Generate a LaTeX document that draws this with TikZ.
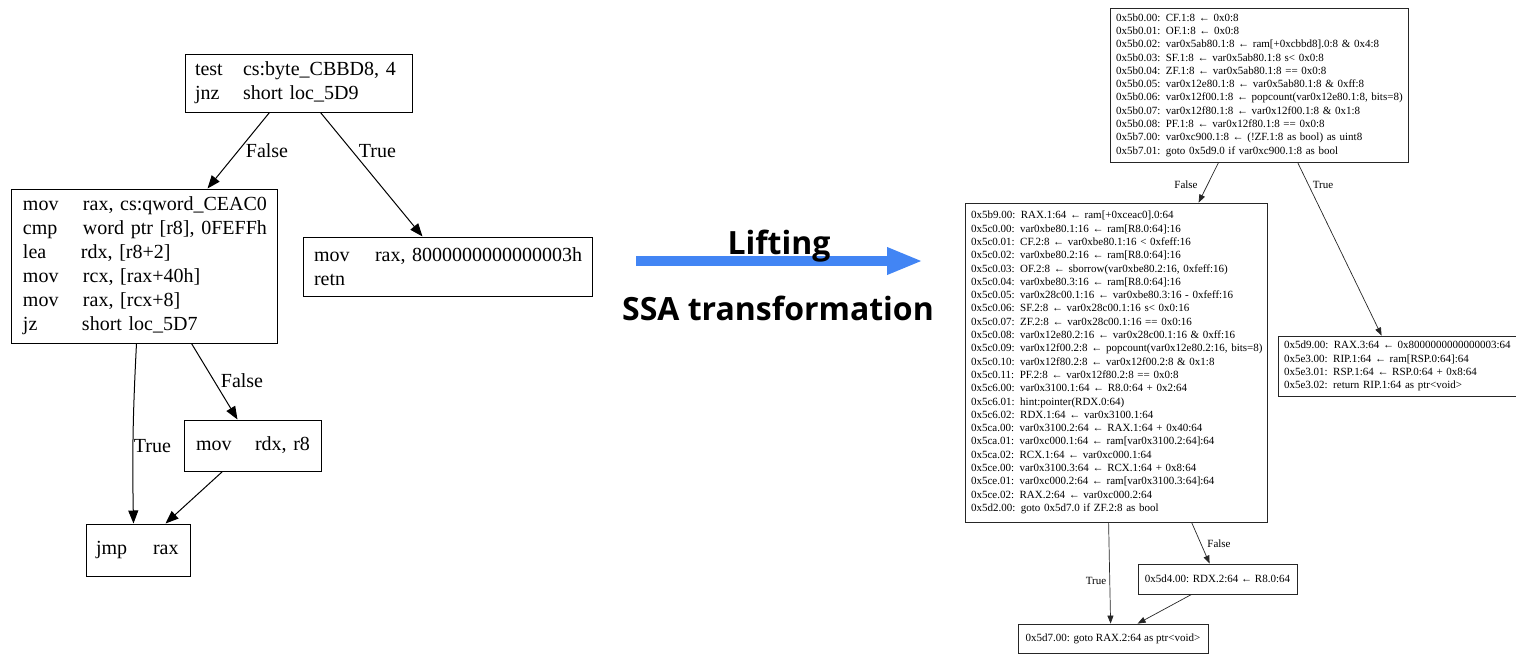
\documentclass[tikz,border=0pt]{standalone}
\usepackage{fontspec}
\setmainfont{Liberation Serif}
\newfontfamily\liftfont{Open Sans}
\usetikzlibrary{arrows.meta,calc}
\definecolor{liftblue}{RGB}{66,133,244}
\newcommand{\ins}[3]{\mbox{\makebox[#1][l]{#2}#3}}
\newcommand{\rl}[1]{\mbox{#1}}
\begin{document}
\begin{tikzpicture}[x=1pt,y=-1pt,
  lbox/.style={draw=black, line width=1pt, rectangle, inner ysep=0pt, align=left, font=\fontsize{20}{24}\selectfont},
  rbox/.style={draw=black!85, line width=0.8pt, rectangle, inner ysep=0pt, inner xsep=6pt, align=left, font=\fontsize{11}{13.3}\selectfont},
  larr/.style={draw=black, line width=1pt, -{Triangle[length=13pt,width=10pt]}},
  rarr/.style={draw=black!85, line width=0.7pt, -{Triangle[length=8pt,width=6pt]}},
  llbl/.style={font=\fontsize{20}{24}\selectfont, inner sep=0pt, anchor=base},
  rlbl/.style={font=\fontsize{11}{13}\selectfont, inner sep=0pt, anchor=base},
  bigtxt/.style={font=\liftfont\bfseries\fontsize{32}{36}\selectfont, inner sep=0pt, anchor=base}
]
\useasboundingbox (0,0) rectangle (1516,654);

% ---------------- left graph ----------------
\node[lbox, minimum height=58pt, text width=207pt, inner xsep=10pt] (A) at (298.5,83)
  {\ins{48pt}{test}{cs:byte\_CBBD8, 4}\\\ins{48pt}{jnz}{short loc\_5D9}};
\node[lbox, minimum height=154pt, text width=242pt, inner xsep=12pt] (B) at (144,266)
  {\ins{60pt}{mov}{rax, cs:qword\_CEAC0}\\
   \ins{60pt}{cmp}{word ptr [r8], 0FEFFh}\\
   \ins{58pt}{lea}{rdx, [r8+2]}\\
   \ins{60pt}{mov}{rcx, [rax+40h]}\\
   \ins{60pt}{mov}{rax, [rcx+8]}\\
   \ins{59pt}{jz}{short loc\_5D7}};
\node[lbox, minimum height=59pt, text width=267pt, inner xsep=11pt] (C) at (447.5,266.5)
  {\ins{61pt}{mov}{rax, 8000000000000003h}\\\ins{61pt}{retn}{}};
\node[lbox, minimum height=51pt, text width=113pt, inner xsep=12pt] (D) at (252.5,445.5)
  {\ins{59pt}{mov}{rdx, r8}};
\node[lbox, minimum height=52pt, text width=84pt, inner xsep=10pt] (E) at (138,550)
  {\ins{57pt}{jmp}{rax}};

\draw[larr] ([xshift=85pt]A.south west) -- ([xshift=197pt]B.north west);
\draw[larr] ([xshift=136pt]A.south west) -- ([xshift=120pt]C.north west);
\draw[larr] ([xshift=126pt]B.south west) to[bend right=2] ([xshift=48pt]E.north west);
\draw[larr] ([xshift=181pt]B.south west) -- ([xshift=54pt]D.north west);
\draw[larr] ([xshift=39pt]D.south west) -- ([xshift=80pt]E.north west);

\node[llbl] (lf1) at (267,157) {False};
\node[llbl] (lt1) at (377.5,157) {True};
\node[llbl] (lt2) at (152.5,452) {True};
\node[llbl] (lf2) at (242,387) {False};

% ---------------- middle ----------------
\coordinate (ls) at (636,261);
\coordinate (le) at (923,261);
\draw[line width=10pt, liftblue, -{Triangle[length=36pt,width=25pt]}] (ls) -- (le);
\node[bigtxt] (lift) at (779,254) {Lifting};
\node[bigtxt] (ssa) at (778,320) {SSA transformation};

% ---------------- right graph ----------------
\node[rbox, minimum height=154pt, text width=286pt] (R1) at (1259,85)
  {\rl{0x5b0.00: CF.1:8 ← 0x0:8}\\
   \rl{0x5b0.01: OF.1:8 ← 0x0:8}\\
   \rl{0x5b0.02: var0x5ab80.1:8 ← ram[+0xcbbd8].0:8 \& 0x4:8}\\
   \rl{0x5b0.03: SF.1:8 ← var0x5ab80.1:8 s< 0x0:8}\\
   \rl{0x5b0.04: ZF.1:8 ← var0x5ab80.1:8 == 0x0:8}\\
   \rl{0x5b0.05: var0x12e80.1:8 ← var0x5ab80.1:8 \& 0xff:8}\\
   \rl{0x5b0.06: var0x12f00.1:8 ← popcount(var0x12e80.1:8, bits=8)}\\
   \rl{0x5b0.07: var0x12f80.1:8 ← var0x12f00.1:8 \& 0x1:8}\\
   \rl{0x5b0.08: PF.1:8 ← var0x12f80.1:8 == 0x0:8}\\
   \rl{0x5b7.00: var0xc900.1:8 ← (!ZF.1:8 as bool) as uint8}\\
   \rl{0x5b7.01: goto 0x5d9.0 if var0xc900.1:8 as bool}};

\node[rbox, minimum height=319pt, text width=290pt] (R2) at (1116,362.5)
  {\rl{0x5b9.00: RAX.1:64 ← ram[+0xceac0].0:64}\\
   \rl{0x5c0.00: var0xbe80.1:16 ← ram[R8.0:64]:16}\\
   \rl{0x5c0.01: CF.2:8 ← var0xbe80.1:16 < 0xfeff:16}\\
   \rl{0x5c0.02: var0xbe80.2:16 ← ram[R8.0:64]:16}\\
   \rl{0x5c0.03: OF.2:8 ← sborrow(var0xbe80.2:16, 0xfeff:16)}\\
   \rl{0x5c0.04: var0xbe80.3:16 ← ram[R8.0:64]:16}\\
   \rl{0x5c0.05: var0x28c00.1:16 ← var0xbe80.3:16 - 0xfeff:16}\\
   \rl{0x5c0.06: SF.2:8 ← var0x28c00.1:16 s< 0x0:16}\\
   \rl{0x5c0.07: ZF.2:8 ← var0x28c00.1:16 == 0x0:16}\\
   \rl{0x5c0.08: var0x12e80.2:16 ← var0x28c00.1:16 \& 0xff:16}\\
   \rl{0x5c0.09: var0x12f00.2:8 ← popcount(var0x12e80.2:16, bits=8)}\\
   \rl{0x5c0.10: var0x12f80.2:8 ← var0x12f00.2:8 \& 0x1:8}\\
   \rl{0x5c0.11: PF.2:8 ← var0x12f80.2:8 == 0x0:8}\\
   \rl{0x5c6.00: var0x3100.1:64 ← R8.0:64 + 0x2:64}\\
   \rl{0x5c6.01: hint:pointer(RDX.0:64)}\\
   \rl{0x5c6.02: RDX.1:64 ← var0x3100.1:64}\\
   \rl{0x5ca.00: var0x3100.2:64 ← RAX.1:64 + 0x40:64}\\
   \rl{0x5ca.01: var0xc000.1:64 ← ram[var0x3100.2:64]:64}\\
   \rl{0x5ca.02: RCX.1:64 ← var0xc000.1:64}\\
   \rl{0x5ce.00: var0x3100.3:64 ← RCX.1:64 + 0x8:64}\\
   \rl{0x5ce.01: var0xc000.2:64 ← ram[var0x3100.3:64]:64}\\
   \rl{0x5ce.02: RAX.2:64 ← var0xc000.2:64}\\
   \rl{0x5d2.00: goto 0x5d7.0 if ZF.2:8 as bool}};

\node[rbox, minimum height=60pt, text width=230pt] (R3) at (1399,366)
  {\rl{0x5d9.00: RAX.3:64 ← 0x8000000000000003:64}\\
   \rl{0x5e3.00: RIP.1:64 ← ram[RSP.0:64]:64}\\
   \rl{0x5e3.01: RSP.1:64 ← RSP.0:64 + 0x8:64}\\
   \rl{0x5e3.02: return RIP.1:64 as ptr<void>}};

\node[rbox, align=center, minimum height=30pt, minimum width=159pt, inner xsep=0pt] (R4) at (1217.5,579)
  {0x5d4.00: RDX.2:64 ← R8.0:64};
\node[rbox, align=center, minimum height=29pt, minimum width=190pt, inner xsep=0pt] (R5) at (1113,638.5)
  {0x5d7.00: goto RAX.2:64 as ptr<void>};

\draw[rarr] ([xshift=109pt]R1.south west) -- ([xshift=234pt]R2.north west);
\draw[rarr] ([xshift=188pt]R1.south west) -- ([xshift=104pt]R3.north west);
\draw[rarr] ([xshift=144pt]R2.south west) -- ([xshift=93pt]R5.north west);
\draw[rarr] ([xshift=227pt]R2.south west) -- ([xshift=72pt]R4.north west);
\draw[rarr] ([xshift=54pt]R4.south west) -- ([xshift=120pt]R5.north west);

\node[rlbl] (rf1) at (1186,188) {False};
\node[rlbl] (rt1) at (1323,188) {True};
\node[rlbl] (rt2) at (1096,584) {True};
\node[rlbl] (rf2) at (1219,547) {False};
\end{tikzpicture}
\end{document}
